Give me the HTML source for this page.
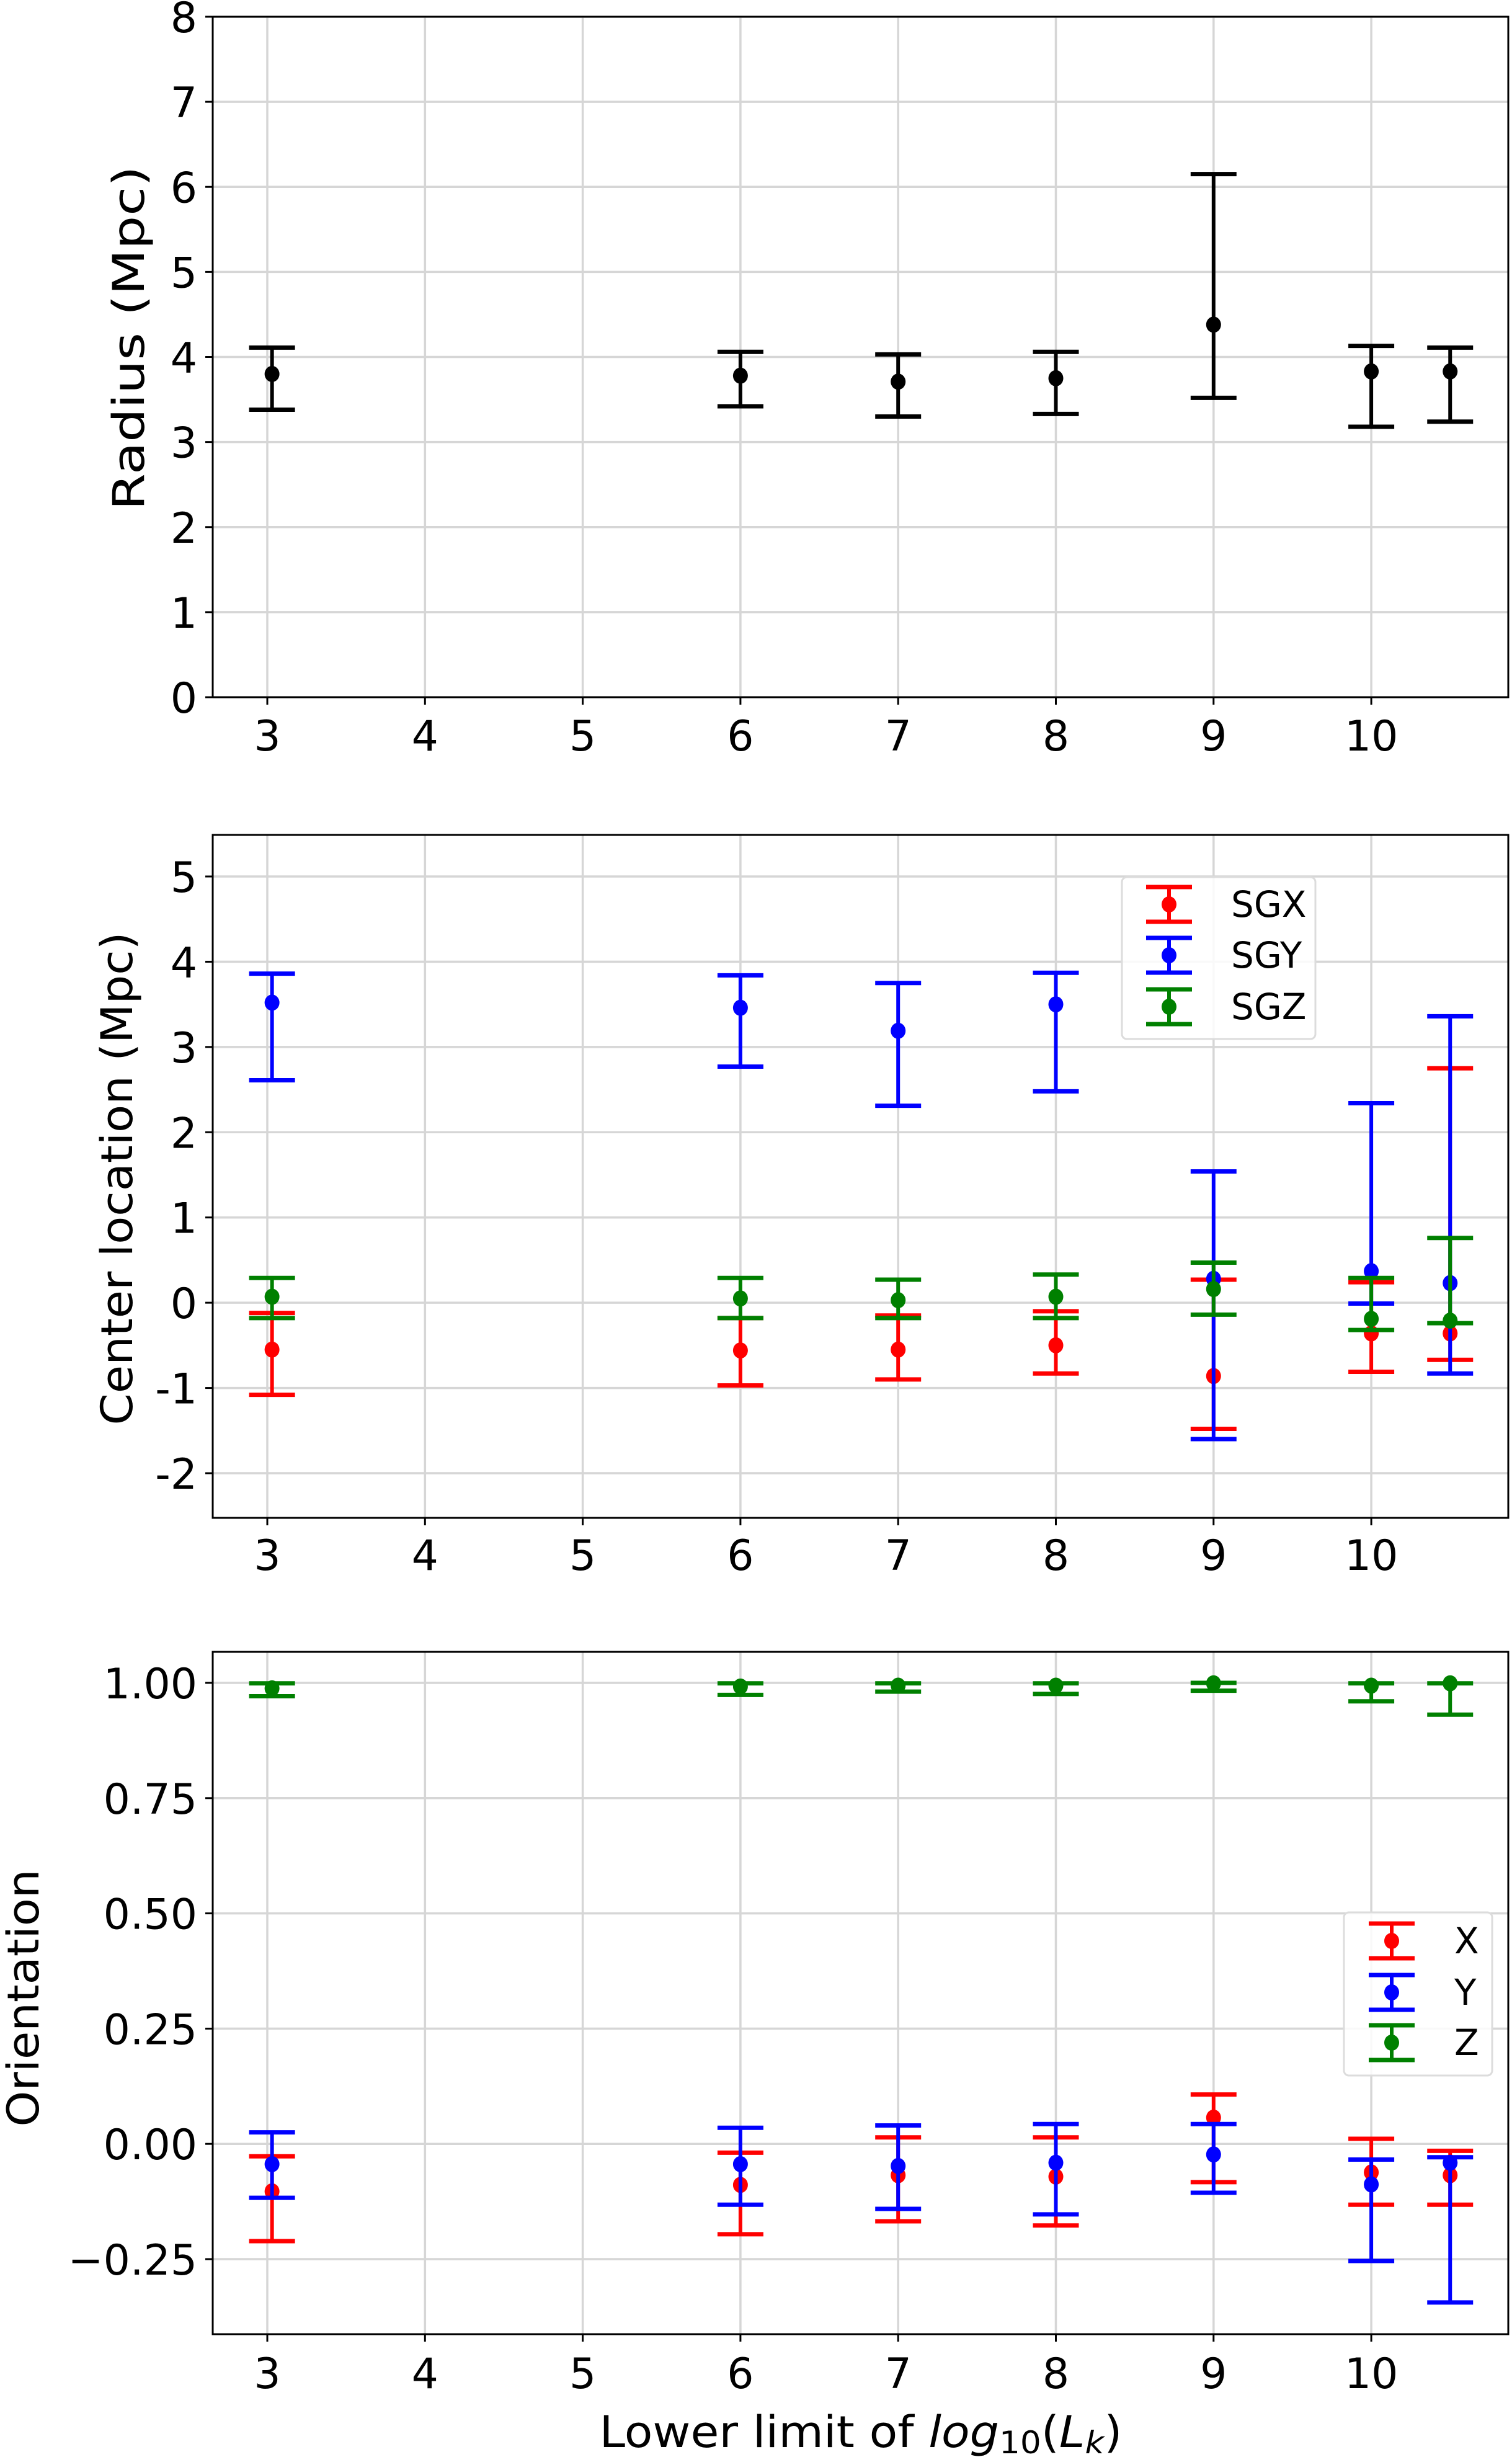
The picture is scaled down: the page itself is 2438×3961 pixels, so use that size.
<!DOCTYPE html>
<html><head><meta charset="utf-8"><style>
html,body{margin:0;padding:0;background:#fff;}
svg{display:block;font-family:"DejaVu Sans","Liberation Sans",sans-serif;}
</style></head><body>
<svg id="fig" xmlns="http://www.w3.org/2000/svg" width="2438" height="3961" viewBox="0 0 2438 3961">
<rect width="2438" height="3961" fill="#fff"/>
</svg>
<script>
const xs = [3.03, 6, 7, 8, 9, 10, 10.5];
const xTicks = [3, 4, 5, 6, 7, 8, 9, 10];
// Panel 1: radius
const radiusVal = [3.80, 3.78, 3.71, 3.75, 4.38, 3.83, 3.83];
const radiusHi  = [4.11, 4.06, 4.03, 4.06, 6.15, 4.13, 4.11];
const radiusLo  = [3.38, 3.42, 3.30, 3.33, 3.52, 3.18, 3.24];
const radiusTicks = [0, 1, 2, 3, 4, 5, 6, 7, 8];
// Panel 2: center location
const sgxVal = [-0.55, -0.56, -0.55, -0.50, -0.86, -0.36, -0.36];
const sgxHi  = [-0.12, -0.18, -0.15, -0.10, 0.27, 0.24, 2.75];
const sgxLo  = [-1.08, -0.97, -0.90, -0.83, -1.48, -0.81, -0.67];
const sgyVal = [3.52, 3.46, 3.19, 3.50, 0.28, 0.37, 0.23];
const sgyHi  = [3.86, 3.84, 3.75, 3.87, 1.54, 2.34, 3.36];
const sgyLo  = [2.61, 2.77, 2.31, 2.48, -1.60, -0.01, -0.83];
const sgzVal = [0.07, 0.05, 0.03, 0.07, 0.16, -0.19, -0.21];
const sgzHi  = [0.29, 0.29, 0.27, 0.33, 0.47, 0.29, 0.76];
const sgzLo  = [-0.18, -0.18, -0.18, -0.18, -0.14, -0.32, -0.24];
const centerTicks = [-2, -1, 0, 1, 2, 3, 4, 5];
const centerTickLabels = ["-2", "-1", "0", "1", "2", "3", "4", "5"];
// Panel 3: orientation
const oxVal = [-0.103, -0.089, -0.068, -0.071, 0.057, -0.062, -0.068];
const oxHi  = [-0.027, -0.019, 0.014, 0.014, 0.107, 0.011, -0.015];
const oxLo  = [-0.211, -0.196, -0.168, -0.177, -0.083, -0.132, -0.132];
const oyVal = [-0.044, -0.044, -0.048, -0.041, -0.023, -0.088, -0.041];
const oyHi  = [0.025, 0.035, 0.040, 0.043, 0.043, -0.034, -0.029];
const oyLo  = [-0.117, -0.132, -0.141, -0.153, -0.106, -0.254, -0.344];
const ozVal = [0.988, 0.992, 0.994, 0.994, 0.999, 0.994, 0.999];
const ozHi  = [0.999, 0.999, 0.999, 0.999, 1.000, 0.999, 0.999];
const ozLo  = [0.971, 0.974, 0.981, 0.976, 0.983, 0.960, 0.931];
const orientTicks = [-0.25, 0, 0.25, 0.5, 0.75, 1.0];
const orientTickLabels = ["\u22120.25", "0.00", "0.25", "0.50", "0.75", "1.00"];

const NS = "http://www.w3.org/2000/svg";
const svg = document.getElementById("fig");
function mk(tag, attrs, parent) {
  const e = document.createElementNS(NS, tag);
  for (const k in attrs) e.setAttribute(k, attrs[k]);
  (parent || svg).appendChild(e);
  return e;
}
const L = 343, R = 2432;
function xPos(v) { return 431 + (v - 3) * 254.3; }

function panel(cfg) {
  const g = mk("g", {});
  
  
  const y = v => cfg.y0 + (v - cfg.v0) * (cfg.y1 - cfg.y0) / (cfg.v1 - cfg.v0);
  // grid
  xTicks.forEach(t => {
    const l = mk("line", {x1: xPos(t), x2: xPos(t), y1: cfg.top, y2: cfg.bottom, stroke: "#d6d6d6", "stroke-width": 3.5}, g);
    
    
  });
  cfg.ticks.forEach(t => {
    const l = mk("line", {x1: L, x2: R, y1: y(t), y2: y(t), stroke: "#d6d6d6", "stroke-width": 3.5}, g);
    
    
  });
  // series
  cfg.series.forEach(s => {
    const sg = mk("g", {}, g);
    
    
    xs.forEach((xv, i) => {
      const px = xPos(xv);
      const bar = mk("line", {x1: px, x2: px, y1: y(s.hi[i]), y2: y(s.lo[i]), stroke: s.color, "stroke-width": 6}, sg);
      
      
      [s.hi[i], s.lo[i]].forEach(cv => {
        const c = mk("line", {x1: px - 37, x2: px + 37, y1: y(cv), y2: y(cv), stroke: s.color, "stroke-width": 7}, sg);
        
        
      });
      const d = mk("ellipse", {cx: px, cy: y(s.val[i]), rx: 12, ry: 13, fill: s.color}, sg);
      
      
    });
  });
  // frame
  const fr = mk("rect", {x: L, y: cfg.top, width: R - L, height: cfg.bottom - cfg.top, fill: "none", stroke: "#000", "stroke-width": 3}, g);
  
  
  // x ticks
  xTicks.forEach(t => {
    const tk = mk("line", {x1: xPos(t), x2: xPos(t), y1: cfg.bottom, y2: cfg.bottom + 12, stroke: "#000", "stroke-width": 3}, g);
    
    
    const tx = mk("text", {x: xPos(t), y: cfg.xLabelBase, "text-anchor": "middle", "font-size": 68, fill: "#000"}, g);
    tx.textContent = String(t);
    
    
  });
  cfg.ticks.forEach((t, i) => {
    const tk = mk("line", {x1: L - 12, x2: L, y1: y(t), y2: y(t), stroke: "#000", "stroke-width": 3}, g);
    
    
    const tx = mk("text", {x: 318, y: y(t) + 25, "text-anchor": "end", "font-size": 68, fill: "#000"}, g);
    tx.textContent = cfg.tickLabels[i];
    
    
  });
  // y title
  const yt = mk("text", {x: 0, y: 0, "text-anchor": "middle", "font-size": 70, fill: "#000",
    transform: `translate(${cfg.titleX},${cfg.titleY}) rotate(-90)`, textLength: cfg.titleLen, lengthAdjust: "spacingAndGlyphs"}, g);
  yt.textContent = cfg.title;
  
  
  // legend
  if (cfg.legend) {
    const lg = cfg.legend;
    const lgg = mk("g", {}, g);
    
    
    const box = mk("rect", {x: lg.x, y: lg.y, width: lg.w, height: lg.h, rx: 8, fill: "#fff", "fill-opacity": 0.85, stroke: "#dcdcdc", "stroke-width": 3}, lgg);
    
    
    cfg.series.forEach((s, i) => {
      const cy = lg.rows[i];
      const eg = mk("g", {}, lgg);
      
      
      mk("line", {x1: lg.mx, x2: lg.mx, y1: cy - 28, y2: cy + 28, stroke: s.color, "stroke-width": 6}, eg);
      mk("line", {x1: lg.mx - 37, x2: lg.mx + 37, y1: cy - 28, y2: cy - 28, stroke: s.color, "stroke-width": 7}, eg);
      mk("line", {x1: lg.mx - 37, x2: lg.mx + 37, y1: cy + 28, y2: cy + 28, stroke: s.color, "stroke-width": 7}, eg);
      mk("ellipse", {cx: lg.mx, cy: cy, rx: 12, ry: 13, fill: s.color}, eg);
      const t = mk("text", {x: lg.tx, y: cy + 20, "font-size": 58, fill: "#000"}, eg);
      t.textContent = s.label;
    });
  }
}

panel({name: "radius-panel", top: 27, bottom: 1124, v0: 0, y0: 1124, v1: 8, y1: 27,
  ticks: radiusTicks, tickLabels: radiusTicks.map(String), xLabelBase: 1210,
  title: "Radius (Mpc)", titleX: 232, titleY: 545, titleLen: 555,
  series: [{name: "radius-series", color: "#000", val: radiusVal, hi: radiusHi, lo: radiusLo}]});

panel({name: "center-panel", top: 1346, bottom: 2447, v0: 5, y0: 1413, v1: -2, y1: 2375,
  ticks: centerTicks, tickLabels: centerTickLabels, xLabelBase: 2531,
  title: "Center location (Mpc)", titleX: 213, titleY: 1900, titleLen: 795,
  legend: {x: 1809, y: 1414, w: 312, h: 261, mx: 1885, tx: 1985, rows: [1458, 1540, 1623]},
  series: [
    {name: "sgx-series", label: "SGX", color: "#ff0000", val: sgxVal, hi: sgxHi, lo: sgxLo},
    {name: "sgy-series", label: "SGY", color: "#0000ff", val: sgyVal, hi: sgyHi, lo: sgyLo},
    {name: "sgz-series", label: "SGZ", color: "#008000", val: sgzVal, hi: sgzHi, lo: sgzLo}]});

panel({name: "orientation-panel", top: 2663, bottom: 3763, v0: 1, y0: 2713, v1: -0.25, y1: 3642,
  ticks: orientTicks, tickLabels: orientTickLabels, xLabelBase: 3850,
  title: "Orientation", titleX: 62, titleY: 3221, titleLen: 415,
  legend: {x: 2167, y: 3083, w: 239, h: 263, mx: 2244, tx: 2345, rows: [3129, 3212, 3293]},
  series: [
    {name: "x-series", label: "X", color: "#ff0000", val: oxVal, hi: oxHi, lo: oxLo},
    {name: "y-series", label: "Y", color: "#0000ff", val: oyVal, hi: oyHi, lo: oyLo},
    {name: "z-series", label: "Z", color: "#008000", val: ozVal, hi: ozHi, lo: ozLo}]});

const xl = mk("text", {x: 1388, y: 3945, "text-anchor": "middle", "font-size": 70, fill: "#000", textLength: 843, lengthAdjust: "spacingAndGlyphs"});
xl.innerHTML = 'Lower limit of <tspan font-style="italic">log</tspan><tspan font-size="50" dy="10">10</tspan><tspan dy="-10">(</tspan><tspan font-style="italic">L</tspan><tspan font-style="italic" font-size="50" dy="10">k</tspan><tspan dy="-10">)</tspan>';


</script>
</body></html>
